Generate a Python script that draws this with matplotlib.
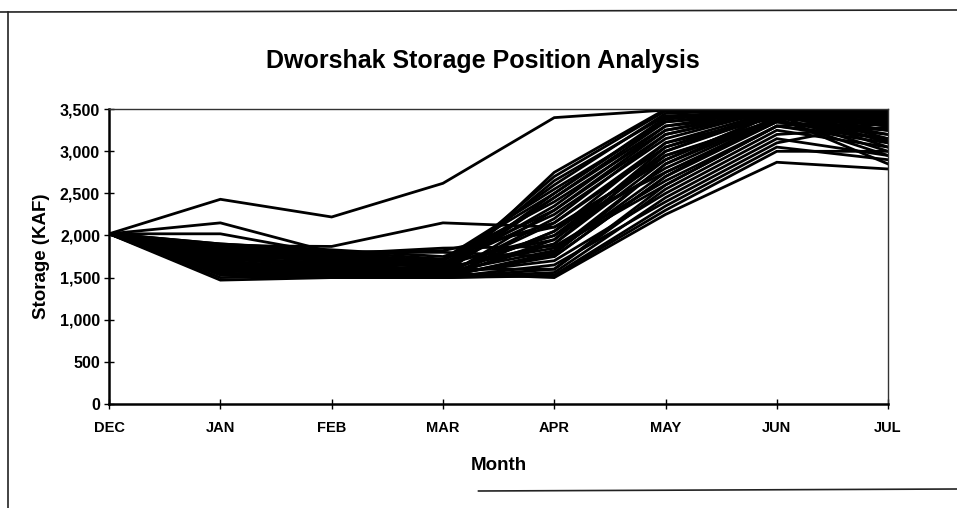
import numpy as np
import matplotlib.pyplot as plt
from matplotlib.lines import Line2D

# Months on the x axis
months = ['DEC', 'JAN', 'FEB', 'MAR', 'APR', 'MAY', 'JUN', 'JUL']

# Storage traces (KAF), one row per year, DEC..JUL
traces = [
    [2020, 2430, 2220, 2620, 3400, 3490, 3490, 3480],
    [2020, 2150, 1800, 1820, 2100, 2750, 3350, 3200],
    [2020, 1880, 1870, 2150, 2100, 2900, 3450, 3300],
    [2020, 2020, 1780, 1850, 1870, 2650, 3300, 3100],
    [2020, 1900, 1820, 1650, 2000, 2800, 3400, 3350],
    [2020, 1850, 1700, 1550, 1500, 2250, 2870, 2790],
    [2020, 1470, 1500, 1500, 1530, 2350, 3050, 2900],
    [2020, 1500, 1520, 1500, 1560, 2450, 3150, 2950],
    [2020, 1560, 1650, 1500, 1600, 2550, 3250, 3050],
    [2020, 1640, 1580, 1520, 1750, 2700, 3350, 3150],
    [2020, 1700, 1600, 1560, 1820, 2850, 3400, 3250],
    [2020, 1750, 1650, 1600, 1900, 3000, 3450, 3350],
    [2020, 1800, 1700, 1500, 2050, 3100, 3480, 3400],
    [2020, 1830, 1750, 1520, 2200, 3200, 3500, 3450],
    [2020, 1870, 1780, 1600, 2350, 3300, 3500, 3480],
    [2020, 1780, 1720, 1700, 2500, 3400, 3480, 3500],
    [2020, 1720, 1680, 1650, 2600, 3450, 3500, 3420],
    [2020, 1680, 1620, 1580, 2700, 3480, 3470, 3380],
    [2020, 1620, 1550, 1500, 2750, 3500, 3420, 3300],
    [2020, 1590, 1500, 1550, 2450, 3350, 3450, 3200],
    [2020, 1530, 1500, 1500, 2300, 3250, 3500, 3100],
    [2020, 1900, 1830, 1750, 2150, 3050, 3420, 3000],
    [2020, 1860, 1760, 1680, 1950, 2950, 3380, 2950],
    [2020, 1810, 1690, 1620, 1850, 2600, 3300, 3150],
    [2020, 1760, 1640, 1540, 1700, 2500, 3200, 3280],
    [2020, 1710, 1570, 1500, 1650, 2400, 3100, 3350],
    [2020, 1660, 1530, 1500, 1800, 2750, 3380, 3420],
    [2020, 1610, 1510, 1520, 1900, 2900, 3450, 3460],
    [2020, 1580, 1540, 1580, 2000, 3000, 3480, 3380],
    [2020, 1820, 1740, 1640, 2250, 3150, 3500, 3300],
    [2020, 1840, 1780, 1700, 2400, 3250, 3460, 3250],
    [2020, 1890, 1810, 1720, 2550, 3350, 3500, 3150],
    [2020, 1740, 1660, 1560, 2650, 3420, 3480, 3050],
    [2020, 1690, 1600, 1530, 2150, 3100, 3400, 2850],
    [2020, 1640, 1560, 1510, 2050, 2950, 3350, 3250],
    [2020, 1550, 1520, 1600, 1600, 2600, 3300, 3400],
    [2020, 1880, 1800, 1800, 1750, 2700, 3420, 3350],
    [2020, 1790, 1710, 1670, 2300, 3200, 3480, 3450],
    [2020, 1730, 1620, 1540, 2500, 3380, 3500, 3480],
    [2020, 1670, 1580, 1500, 1950, 3050, 3470, 3320],
    [2020, 1600, 1500, 1500, 1520, 2300, 3000, 3000],
    [2020, 1760, 1700, 1620, 2450, 3300, 3440, 3120],
    [2020, 1820, 1680, 1510, 1780, 2850, 3460, 3430],
]

yticks = [0, 500, 1000, 1500, 2000, 2500, 3000, 3500]

plt.rcParams['font.family'] = ['Liberation Sans', 'DejaVu Sans']
plt.rcParams['font.weight'] = 'bold'

fig = plt.figure(figsize=(9.57, 5.08), dpi=100)
ax = fig.add_axes([0.114, 0.205, 0.814, 0.580])

x = np.arange(len(months))
for row in traces:
    ax.plot(x, row, color='black', linewidth=2.0, solid_joinstyle='miter')

ax.set_xlim(0, len(months) - 1)
ax.set_ylim(0, 3500)
ax.set_xticks(x)
ax.set_xticklabels(months, fontsize=10.5, fontweight='bold')
ax.set_yticks(yticks)
ax.set_yticklabels([f'{v:,}' for v in yticks], fontsize=11.5, fontweight='bold')
ax.tick_params(axis='both', direction='inout', length=7, width=1, color='black')
ax.tick_params(axis='x', pad=9)
ax.tick_params(axis='y', pad=3)

for side in ['left', 'bottom']:
    ax.spines[side].set_linewidth(1.8)
for side in ['top', 'right']:
    ax.spines[side].set_linewidth(1.0)
    ax.spines[side].set_color('#333333')

ax.set_xlabel('Month', fontsize=13.5, fontweight='bold', labelpad=16)
ax.set_ylabel('Storage (KAF)', fontsize=13.5, fontweight='bold', labelpad=7)
fig.text(0.505, 0.880, 'Dworshak Storage Position Analysis', ha='center', va='center',
         fontsize=18, fontweight='bold')

# scanned page frame
fig.add_artist(Line2D([8 / 957, 8 / 957], [0, 1 - 12 / 508], color='#222222', linewidth=1.2))
fig.add_artist(Line2D([0, 1], [1 - 12 / 508, 1 - 10 / 508], color='#222222', linewidth=1.2))
fig.add_artist(Line2D([0.5, 1], [1 - 491 / 508, 1 - 489 / 508], color='#222222', linewidth=1.2))

fig.savefig('out.png', dpi=100, facecolor='white')
